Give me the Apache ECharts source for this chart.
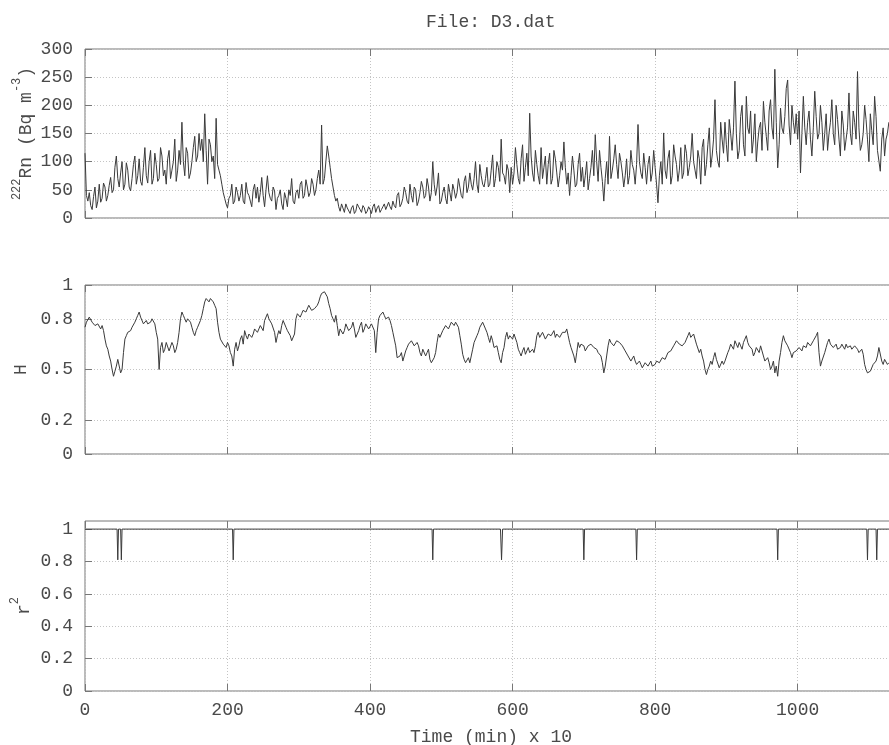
<!DOCTYPE html>
<html><head><meta charset="utf-8">
<script src="https://cdn.jsdelivr.net/npm/echarts@6/dist/echarts.min.js"></script>
<style>html,body{margin:0;padding:0;background:#fff}#c{width:889px;height:745px}</style>
</head><body><div id="c"></div>
<script>
// sampling step of the time axis (min x 10); *_mid arrays hold the samples half a step later
const STEP = 4;
const rn = [
 115,30,22,38,18,60,35,55,40,72,50,110,55,100,60,85,48,95,60,105,58,125,62,120,70,
 95,70,110,85,105,70,100,65,120,170,75,115,80,125,100,150,140,185,60,130,110,177,85,60,35,
 18,40,25,55,30,60,25,45,30,50,35,28,72,20,75,35,55,15,40,25,45,20,40,30,45,
 35,65,40,55,45,60,50,85,165,70,128,90,55,30,20,25,10,18,8,22,12,20,10,18,12,
 15,20,10,22,15,25,12,20,30,18,45,25,55,30,60,28,50,30,65,35,70,30,100,40,80,
 30,55,25,45,60,35,70,40,65,45,80,50,100,45,75,55,90,60,112,70,90,140,75,95,45,
 60,125,70,105,65,115,186,80,120,75,125,90,60,115,70,105,55,100,135,60,40,110,55,95,65,
 55,100,70,120,148,65,90,30,100,145,85,130,70,100,55,105,75,95,60,166,80,115,60,110,80,
 90,27,100,151,70,120,75,110,65,125,80,115,90,150,85,120,60,140,95,160,110,210,100,170,115,
 130,175,120,243,105,180,130,216,150,115,185,135,170,207,145,190,160,264,89,195,150,230,165,200,150,
 140,80,216,130,190,110,225,140,200,120,185,150,210,130,175,110,165,140,222,130,170,260,120,150,175,100,155,216,120,83,160,140,170
];
const rnMid = [
 40,45,15,55,30,28,62,30,58,45,90,70,80,50,98,55,70,110,75,65,90,75,100,60,115,
 65,125,75,60,120,85,140,85,95,100,125,70,100,145,110,120,100,120,140,100,70,95,75,45,25,
 35,60,30,45,40,30,63,40,20,60,55,45,40,50,45,30,48,35,50,15,35,50,70,25,50,
 60,35,68,38,70,40,70,60,60,100,110,70,40,35,12,22,25,15,18,8,25,15,22,8,20,
 8,25,18,10,20,15,28,15,22,40,20,35,45,25,40,55,22,45,55,40,55,45,60,55,25,
 45,35,60,30,50,45,55,35,75,55,60,70,60,95,60,70,55,85,55,100,65,80,60,85,90,
 80,95,60,130,90,75,110,65,95,60,70,110,95,60,120,80,75,85,90,80,75,85,60,115,90,
 75,50,90,75,100,120,65,70,60,70,105,95,115,80,75,60,120,85,95,100,70,90,95,65,120,
 60,75,60,85,105,60,130,95,85,70,130,75,110,100,70,105,125,75,130,90,140,120,90,140,170,
 100,150,160,150,120,200,110,160,190,140,100,160,120,170,120,210,140,170,130,160,180,245,130,170,185,
 190,150,160,170,140,160,180,150,170,150,120,170,150,200,140,190,120,160,150,190,140,160,130,200,140,185,130,180,120,140,110,150
];
const hurst = [
 0.75,0.78,0.80,0.79,0.75,0.76,0.76,0.68,0.62,0.55,0.46,0.52,0.55,0.50,0.68,0.72,0.73,0.76,0.80,0.84,0.80,0.78,0.77,0.78,0.80,
 0.72,0.50,0.66,0.62,0.65,0.62,0.64,0.62,0.72,0.84,0.80,0.80,0.78,0.72,0.73,0.76,0.82,0.90,0.91,0.92,0.90,0.86,0.72,0.67,0.66,
 0.66,0.60,0.52,0.66,0.64,0.70,0.73,0.68,0.72,0.71,0.73,0.74,0.75,0.79,0.83,0.79,0.76,0.66,0.73,0.76,0.78,0.73,0.70,0.68,0.80,
 0.84,0.83,0.86,0.85,0.87,0.86,0.87,0.90,0.95,0.96,0.93,0.86,0.80,0.82,0.70,0.75,0.73,0.76,0.72,0.78,0.69,0.73,0.78,0.74,0.76,
 0.75,0.76,0.60,0.80,0.83,0.82,0.80,0.79,0.72,0.64,0.56,0.60,0.56,0.63,0.66,0.66,0.65,0.64,0.58,0.61,0.60,0.56,0.53,0.60,0.71,
 0.70,0.74,0.75,0.76,0.77,0.78,0.75,0.65,0.56,0.55,0.54,0.62,0.68,0.72,0.76,0.77,0.72,0.66,0.67,0.62,0.60,0.54,0.63,0.72,0.70,
 0.68,0.70,0.62,0.58,0.63,0.61,0.60,0.62,0.64,0.72,0.70,0.71,0.69,0.72,0.71,0.69,0.72,0.70,0.73,0.74,0.66,0.62,0.54,0.66,0.65,
 0.64,0.62,0.63,0.66,0.64,0.60,0.58,0.48,0.58,0.68,0.66,0.65,0.68,0.67,0.63,0.60,0.57,0.56,0.55,0.54,0.53,0.52,0.54,0.53,0.52,
 0.53,0.56,0.55,0.57,0.58,0.60,0.62,0.65,0.68,0.66,0.63,0.68,0.72,0.70,0.68,0.64,0.62,0.55,0.47,0.52,0.53,0.60,0.55,0.52,0.53,
 0.56,0.62,0.64,0.67,0.63,0.64,0.66,0.70,0.64,0.62,0.60,0.62,0.64,0.58,0.56,0.54,0.52,0.48,0.46,0.60,0.70,0.68,0.63,0.57,0.59,
 0.60,0.62,0.64,0.63,0.66,0.65,0.68,0.72,0.52,0.56,0.63,0.68,0.66,0.64,0.62,0.63,0.64,0.65,0.63,0.62,0.64,0.62,0.61,0.59,0.50,0.47,0.50,0.52,0.58,0.62,0.53,0.55,0.54
];
const hurstMid = [
 0.78,0.81,0.78,0.76,0.77,0.74,0.73,0.64,0.58,0.50,0.49,0.56,0.48,0.60,0.70,0.71,0.75,0.78,0.82,0.81,0.77,0.79,0.76,0.80,0.77,
 0.68,0.63,0.60,0.66,0.61,0.66,0.60,0.66,0.80,0.82,0.78,0.81,0.75,0.70,0.75,0.79,0.86,0.92,0.90,0.91,0.88,0.78,0.68,0.65,0.63,
 0.64,0.58,0.62,0.61,0.68,0.65,0.70,0.71,0.69,0.74,0.72,0.76,0.73,0.80,0.80,0.77,0.72,0.70,0.71,0.79,0.75,0.72,0.67,0.71,0.83,
 0.81,0.85,0.84,0.88,0.85,0.86,0.88,0.93,0.94,0.95,0.89,0.82,0.78,0.76,0.74,0.71,0.77,0.73,0.75,0.74,0.71,0.76,0.72,0.77,0.74,
 0.77,0.73,0.72,0.82,0.84,0.80,0.81,0.76,0.68,0.57,0.58,0.55,0.61,0.65,0.67,0.64,0.66,0.60,0.62,0.58,0.62,0.54,0.57,0.66,0.69,
 0.73,0.76,0.74,0.78,0.76,0.77,0.70,0.59,0.54,0.57,0.58,0.66,0.70,0.75,0.78,0.74,0.69,0.70,0.63,0.64,0.56,0.60,0.69,0.68,0.70,
 0.71,0.66,0.60,0.61,0.59,0.63,0.61,0.60,0.70,0.69,0.72,0.68,0.71,0.70,0.73,0.71,0.69,0.72,0.72,0.70,0.63,0.58,0.60,0.63,0.66,
 0.61,0.64,0.65,0.63,0.62,0.61,0.54,0.52,0.64,0.66,0.64,0.67,0.66,0.64,0.61,0.58,0.55,0.58,0.53,0.55,0.51,0.54,0.52,0.55,0.51,
 0.55,0.54,0.57,0.56,0.60,0.61,0.64,0.67,0.65,0.64,0.66,0.70,0.69,0.71,0.65,0.60,0.58,0.50,0.50,0.55,0.57,0.56,0.51,0.55,0.55,
 0.60,0.65,0.62,0.65,0.66,0.62,0.68,0.66,0.63,0.58,0.63,0.60,0.61,0.55,0.57,0.50,0.55,0.52,0.55,0.66,0.67,0.64,0.60,0.60,0.61,
 0.63,0.61,0.65,0.66,0.64,0.67,0.70,0.60,0.55,0.60,0.66,0.65,0.63,0.65,0.61,0.65,0.62,0.63,0.64,0.61,0.63,0.60,0.62,0.53,0.48,0.49,0.53,0.55,0.63,0.55,0.56,0.53
];
const r2Time  = [0,45,46,47,50,51,52,207,208,209,487,488,489,583,584.5,586,699,700,701,773,774,775,971,972,973,1097,1098,1099,1110,1111,1112,1131];
const r2Value = [1,1,0.81,1,1,0.81,1,1,0.81,1,1,0.81,1,1,0.81,1,1,0.81,1,1,0.81,1,1,0.81,1,1,0.81,1,1,0.81,1,1];
const xTicks  = [0,200,400,600,800,1000];
const rnTicks = [0,50,100,150,200,250,300];
const hTicks  = [0,0.2,0.5,0.8,1];
const r2Ticks = [0,0.2,0.4,0.6,0.8,1];

const FONT = 'Liberation Mono';
const FS = 18;
const TXT = '#4a4a4a';
const FRAME = '#777';
const GRIDC = '#c4c4c4';
const LINE = '#3a3a3a';
const XMAX = 1131;

function interleave(main, mid){
  const out = [];
  main.forEach((v,i)=>{
    out.push([i*STEP, v]);
    if (i < mid.length) out.push([i*STEP + STEP/2, mid[i]]);
  });
  return out;
}
const rnData = interleave(rn, rnMid);
const hData = interleave(hurst, hurstMid);
const r2Data = r2Time.map((t,i)=>[t, r2Value[i]]);

const grids = [
  {left:85, right:-2, top:49, height:169},
  {left:85, right:-2, top:285, height:169},
  {left:85, right:-2, top:521, height:170}
].map(g=>Object.assign(g,{show:true, borderColor:FRAME, borderWidth:1, containLabel:false, outerBoundsMode:'none'}));

function xAx(grid, pos, labels){
  return {type:'value', gridIndex:grid, position:pos, min:0, max:XMAX,
    axisLine:{show:false},
    axisTick:{show:true, inside:true, length:7, customValues:xTicks, lineStyle:{color:FRAME}},
    axisLabel:{show:labels, customValues:xTicks, margin:10, fontFamily:FONT, fontSize:FS, color:TXT, formatter:v=>String(v)},
    splitLine:{show:pos==='bottom', lineStyle:{color:GRIDC, type:[1,2], width:1}},
    name: (labels ? 'Time (min) x 10' : ''), nameLocation:'middle', nameGap:37, nameMoveOverlap:false,
    nameTextStyle:{fontFamily:FONT, fontSize:FS, color:TXT, padding:[0,0,0,6]}
  };
}
const supStyle = {fontFamily:FONT, fontSize:12, color:TXT, padding:[0,0,18,0]};
const mainStyle = {fontFamily:FONT, fontSize:FS, color:TXT};
function yAx(grid, min, max, ticks, name, gap){
  return {type:'value', gridIndex:grid, position:'left', min, max,
    axisLine:{show:false},
    axisTick:{show:true, inside:true, length:7, customValues:ticks, lineStyle:{color:FRAME}},
    axisLabel:{customValues:ticks, margin:12, fontFamily:FONT, fontSize:FS, color:TXT, formatter:v=>String(v)},
    splitLine:{show:true, lineStyle:{color:GRIDC, type:[1,2], width:1}},
    name, nameLocation:'middle', nameRotate:90, nameGap:gap, nameMoveOverlap:false,
    nameTextStyle:{fontFamily:FONT, fontSize:FS, color:TXT, rich:{sup:supStyle, m:mainStyle}}
  };
}

const chart = echarts.init(document.getElementById('c'), null, {renderer:'canvas'});
chart.setOption({
  animation:false,
  backgroundColor:'#fff',
  title:{text:'File: D3.dat', left:426, top:13, padding:0,
    textStyle:{fontFamily:FONT, fontSize:FS, fontWeight:'normal', color:TXT}},
  grid:grids,
  xAxis:[xAx(0,'bottom',false), xAx(1,'bottom',false), xAx(2,'bottom',true),
         xAx(0,'top',false), xAx(1,'top',false), xAx(2,'top',false)],
  yAxis:[
    yAx(0,0,300,rnTicks,'{sup|222}{m|Rn (Bq m}{sup|-3}{m|)}',44),
    yAx(1,0,1,hTicks,'{m|H}',55),
    yAx(2,0,1.05,r2Ticks,'{m|r}{sup|2}',46)
  ],
  series:[
    {type:'line', xAxisIndex:0, yAxisIndex:0, data:rnData, showSymbol:false, lineStyle:{color:LINE, width:1}},
    {type:'line', xAxisIndex:1, yAxisIndex:1, data:hData, showSymbol:false, lineStyle:{color:LINE, width:1}},
    {type:'line', xAxisIndex:2, yAxisIndex:2, data:r2Data, showSymbol:false, lineStyle:{color:LINE, width:1}}
  ]
});
</script></body></html>
